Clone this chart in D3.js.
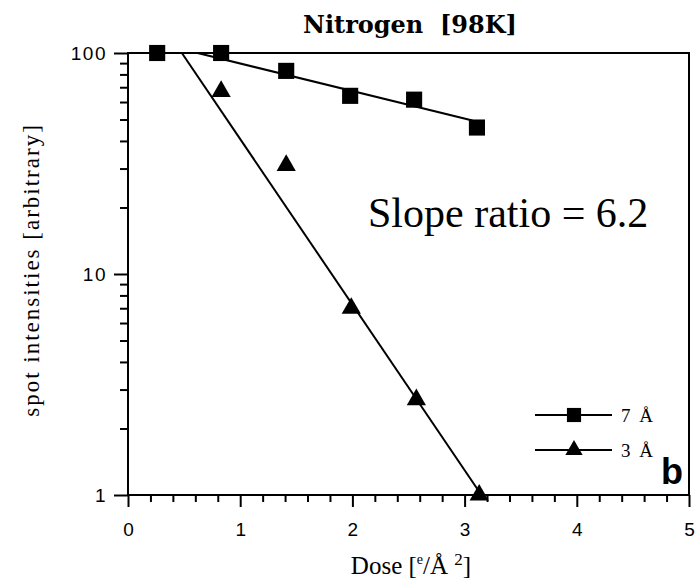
<!DOCTYPE html>
<html>
<head>
<meta charset="utf-8">
<script src="https://cdn.jsdelivr.net/npm/d3@7"></script>
<style>
  html, body { margin: 0; padding: 0; background: #fff; }
  svg { display: block; }
  .tick text { font-family: "Liberation Sans", Arial, sans-serif; }
</style>
</head>
<body>
<svg id="chart" width="696" height="581"></svg>
<script>
// Dose values (e/Å²) for each measurement
const dose7 = [0.26, 0.83, 1.41, 1.98, 2.55, 3.11];
const intensity7 = [100, 100, 83, 64, 61.5, 46];
const dose3 = [0.83, 1.41, 1.99, 2.57, 3.13];
const intensity3 = [67, 31, 7.0, 2.7, 1.0];

// Fitted decay lines: [dose, intensity] end points
const fit7 = [[0.62, 100], [3.07, 49.5]];
const fit3 = [[0.48, 100], [3.15, 1.0]];

const xTicks = [0, 1, 2, 3, 4, 5];
const yTicks = [1, 10, 100];
const yMinorTicks = [2, 3, 4, 5, 6, 7, 8, 9, 20, 30, 40, 50, 60, 70, 80, 90];
const legendLabels = ["7 Å", "3 Å"];

const svg = d3.select("#chart");
const W = 696, H = 581;
const plotLeft = 128, plotRight = 689, plotTop = 53, plotBottom = 495;
const serif = "Liberation Serif, Times New Roman, serif";

svg.append("rect").attr("width", W).attr("height", H).attr("fill", "#fff");

const x = d3.scaleLinear().domain([0, 5]).range([plotLeft, plotRight]);
const y = d3.scaleLog().domain([1, 100]).range([plotBottom, plotTop]);

// Bottom axis: major and minor ticks
const xMinor = d3.range(0, 5.001, 0.2).filter(v => Math.abs(v - Math.round(v)) > 1e-6);
const gxMinor = svg.append("g").attr("transform", `translate(0,${plotBottom})`)
  .call(d3.axisBottom(x).tickValues(xMinor).tickSize(7).tickFormat(""));
const gx = svg.append("g").attr("transform", `translate(0,${plotBottom})`)
  .call(d3.axisBottom(x).tickValues(xTicks).tickSize(12).tickPadding(16).tickFormat(d3.format("d")));
gx.selectAll("text").attr("font-size", 19).attr("fill", "#000");

// Left axis: log decades and minor ticks
const gyMinor = svg.append("g").attr("transform", `translate(${plotLeft},0)`)
  .call(d3.axisLeft(y).tickValues(yMinorTicks).tickSize(8).tickFormat(""));
const gy = svg.append("g").attr("transform", `translate(${plotLeft},0)`)
  .call(d3.axisLeft(y).tickValues(yTicks).tickSize(14).tickPadding(7).tickFormat(d3.format("d")));
gy.selectAll("text").attr("font-size", 19).attr("letter-spacing", 1.5).attr("fill", "#000");

[gx, gxMinor, gy, gyMinor].forEach(g => {
  g.select(".domain").remove();
  g.selectAll("line").attr("stroke", "#000").attr("stroke-width", 2);
});

// Frame
svg.append("rect")
  .attr("x", plotLeft).attr("y", plotTop)
  .attr("width", plotRight - plotLeft).attr("height", plotBottom - plotTop)
  .attr("fill", "none").attr("stroke", "#000").attr("stroke-width", 2);

// Fit lines
const line = d3.line().x(d => x(d[0])).y(d => y(d[1]));
svg.append("path").datum(fit7).attr("d", line)
  .attr("fill", "none").attr("stroke", "#000").attr("stroke-width", 2);
svg.append("path").datum(fit3).attr("d", line)
  .attr("fill", "none").attr("stroke", "#000").attr("stroke-width", 2);

// Markers
const sq = d3.symbol().type(d3.symbolSquare).size(260);
const tri = d3.symbol().type(d3.symbolTriangle).size(160);

svg.append("g").selectAll("path").data(d3.zip(dose7, intensity7)).join("path")
  .attr("d", sq)
  .attr("transform", d => `translate(${x(d[0])},${y(d[1])})`)
  .attr("fill", "#000");
svg.append("g").selectAll("path").data(d3.zip(dose3, intensity3)).join("path")
  .attr("d", tri)
  .attr("transform", d => `translate(${x(d[0])},${y(d[1])})`)
  .attr("fill", "#000");

// Legend
const legend = svg.append("g");
const legendRows = [
  { sym: d3.symbol().type(d3.symbolSquare).size(200), label: legendLabels[0], y: 415 },
  { sym: d3.symbol().type(d3.symbolTriangle).size(130), label: legendLabels[1], y: 450 }
];
legendRows.forEach(r => {
  legend.append("line").attr("x1", 535).attr("x2", 612).attr("y1", r.y).attr("y2", r.y)
    .attr("stroke", "#000").attr("stroke-width", 2);
  legend.append("path").attr("d", r.sym())
    .attr("transform", `translate(574,${r.y})`).attr("fill", "#000");
  legend.append("text").attr("x", 621).attr("y", r.y + 7)
    .attr("font-family", serif)
    .attr("font-size", 19).attr("letter-spacing", 2).text(r.label);
});

// Panel letter
svg.append("text").attr("x", 683).attr("y", 484).attr("text-anchor", "end")
  .attr("font-family", "Liberation Sans, Arial, sans-serif").attr("font-weight", "bold")
  .attr("font-size", 36).text("b");

// Title
svg.append("text").attr("x", 410).attr("y", 33).attr("text-anchor", "middle")
  .attr("font-family", "DejaVu Serif, serif").attr("font-weight", "bold")
  .attr("font-size", 24).text("Nitrogen\u00a0\u00a0[98K]");

// Annotation
svg.append("text").attr("x", 368).attr("y", 227)
  .attr("font-family", serif)
  .attr("font-size", 42).text("Slope ratio = 6.2");

// Axis titles
const xt = svg.append("text").attr("x", 411).attr("y", 574).attr("text-anchor", "middle")
  .attr("font-family", serif).attr("font-size", 25);
xt.append("tspan").text("Dose [");
xt.append("tspan").attr("font-size", 14).attr("dy", -10).text("e");
xt.append("tspan").attr("dy", 10).text("/Å ");
xt.append("tspan").attr("font-size", 17).attr("dy", -9).text("2");
xt.append("tspan").attr("dy", 9).text("]");

svg.append("text")
  .attr("transform", "translate(39,270) rotate(-90)")
  .attr("text-anchor", "middle")
  .attr("font-family", serif)
  .attr("font-size", 23).attr("letter-spacing", 2).text("spot intensities [arbitrary]");
</script>
</body>
</html>
